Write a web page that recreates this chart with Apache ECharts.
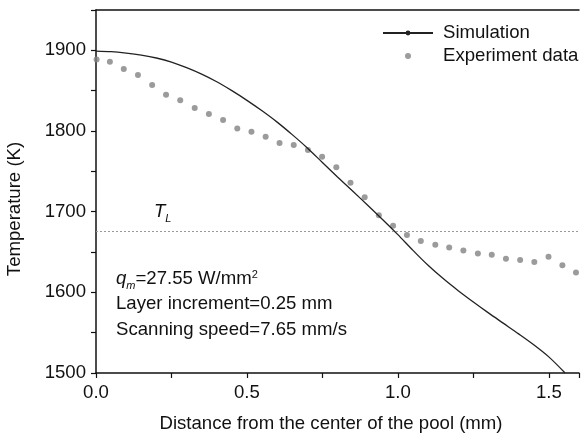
<!DOCTYPE html>
<html>
<head>
<meta charset="utf-8">
<script src="https://cdn.jsdelivr.net/npm/echarts@6/dist/echarts.min.js"></script>
<style>
  html, body { margin: 0; padding: 0; background: #fff; }
  #chart { width: 582px; height: 435px; }
</style>
</head>
<body>
<div id="chart"></div>
<script>
// simulated temperature along the pool (mm -> K)
const simX = [0, 0.05, 0.1, 0.15, 0.2, 0.25, 0.3, 0.35, 0.4, 0.45, 0.5, 0.55, 0.6, 0.65, 0.7, 0.75,
  0.8, 0.85, 0.9, 0.95, 1.0, 1.05, 1.1, 1.15, 1.2, 1.25, 1.3, 1.35, 1.4, 1.45, 1.5, 1.554];
const simT = [1899, 1898.3, 1896.5, 1894, 1890.5, 1885.5, 1878.5, 1870.5, 1861, 1850, 1838, 1825, 1811,
  1795.5, 1779, 1761, 1743, 1725.5, 1708, 1690, 1671.5, 1652, 1633.5, 1617, 1602, 1588, 1574.5,
  1561.5, 1548.5, 1535, 1520, 1500];

// measured points
const expX = [0.002, 0.046, 0.092, 0.139, 0.186, 0.232, 0.279, 0.327, 0.374, 0.421, 0.468, 0.515,
  0.562, 0.608, 0.655, 0.702, 0.749, 0.796, 0.843, 0.890, 0.937, 0.984, 1.030, 1.076, 1.124, 1.170,
  1.217, 1.265, 1.311, 1.358, 1.405, 1.452, 1.499, 1.545, 1.590];
const expT = [1888.5, 1885.7, 1877, 1869.5, 1857, 1845, 1838, 1828.5, 1821, 1813.5, 1803, 1799, 1793,
  1785, 1782.5, 1776.5, 1768, 1755, 1736, 1718, 1695.5, 1682.5, 1671, 1663.5, 1659, 1655.5, 1652,
  1648, 1646.5, 1641.5, 1640, 1637.5, 1644, 1633.5, 1624.5];

const liquidusT = 1676;
const xTickLabels = ["0.0", "0.5", "1.0", "1.5"];
const yTickLabels = ["1500", "1600", "1700", "1800", "1900"];

const FONT = "'Liberation Sans', Arial, sans-serif";
const FS = 18.6;
const palette = {
  text: "#111",
  axis: "#111",
  sim: "#222",
  exp: "#828282",
  tl: "#999",
};

const chart = echarts.init(document.getElementById("chart"));

const axisCommon = {
  axisLine: { show: true, lineStyle: { color: palette.axis, width: 1.5 } },
  axisTick: { show: true, inside: false, length: 5, lineStyle: { color: palette.axis, width: 1.2 } },
  splitLine: { show: false },
};

chart.setOption({
  animation: false,
  backgroundColor: "#fff",
  grid: { left: 96, top: 10, width: 488, height: 363 },

  legend: {
    orient: "vertical",
    left: 377,
    top: 17,
    itemWidth: 50,
    itemHeight: 6,
    itemGap: 1,
    selectedMode: false,
    data: ["Simulation", "Experiment data"],
    textStyle: { fontFamily: FONT, fontSize: FS, color: palette.text, lineHeight: 22, padding: [0, 0, 0, 5] },
  },

  xAxis: [
    {
      type: "value",
      min: 0,
      max: 1.6,
      interval: 0.25,
      ...axisCommon,
      axisLabel: {
        fontFamily: FONT,
        fontSize: FS,
        color: palette.text,
        margin: 10,
        formatter: (v) => {
          const s = v.toFixed(1);
          return xTickLabels.includes(s) && Math.abs(v * 2 - Math.round(v * 2)) < 1e-6 ? s : "";
        },
      },
    },
    {
      type: "value",
      position: "top",
      min: 0,
      max: 1.6,
      axisLine: { show: true, lineStyle: { color: palette.axis, width: 1.5 } },
      axisTick: { show: false },
      axisLabel: { show: false },
      splitLine: { show: false },
    },
  ],

  yAxis: {
    type: "value",
    min: 1500,
    max: 1950,
    interval: 50,
    ...axisCommon,
    axisLabel: {
      fontFamily: FONT,
      fontSize: FS,
      color: palette.text,
      margin: 10,
      formatter: (v) => (yTickLabels.includes(String(v)) ? String(v) : ""),
    },
  },

  graphic: [
    {
      type: "text",
      x: 331,
      y: 424,
      style: {
        text: "Distance from the center of the pool (mm)",
        textAlign: "center",
        textVerticalAlign: "middle",
        font: FS + "px " + FONT,
        fill: palette.text,
      },
    },
    {
      type: "text",
      x: 15,
      y: 209,
      rotation: Math.PI / 2,
      style: {
        text: "Temperature (K)",
        textAlign: "center",
        textVerticalAlign: "middle",
        font: FS + "px " + FONT,
        fill: palette.text,
      },
    },
    {
      type: "text",
      x: 154,
      y: 200,
      style: {
        text: "{i|T}{sub|L}",
        font: FS + "px " + FONT,
        fill: palette.text,
        lineHeight: 24,
        rich: {
          i: { fontStyle: "italic", fontSize: FS, fontFamily: FONT },
          sub: { fontStyle: "italic", fontSize: 11, fontFamily: FONT, verticalAlign: "bottom", lineHeight: 11 },
        },
      },
    },
    {
      type: "text",
      x: 116,
      y: 266,
      style: {
        text: "{i|q}{sub|m}=27.55 W/mm{sup|2}\nLayer increment=0.25 mm\nScanning speed=7.65 mm/s",
        font: FS + "px " + FONT,
        fill: palette.text,
        lineHeight: 25.5,
        rich: {
          i: { fontStyle: "italic", fontSize: FS, fontFamily: FONT },
          sub: { fontStyle: "italic", fontSize: 11, fontFamily: FONT, verticalAlign: "bottom", lineHeight: 11 },
          sup: { fontSize: 11, fontFamily: FONT, verticalAlign: "top", lineHeight: 11, padding: [3, 0, 0, 0] },
        },
      },
    },
  ],

  series: [
    {
      name: "Simulation",
      type: "line",
      symbol: "circle",
      symbolSize: 3,
      showSymbol: false,
      smooth: 0.3,
      color: palette.sim,
      lineStyle: { color: palette.sim, width: 1.3 },
      data: simX.map((x, i) => [x, simT[i]]),
      z: 3,
    },
    {
      name: "Experiment data",
      type: "scatter",
      symbol: "circle",
      symbolSize: 6,
      itemStyle: { color: palette.exp },
      data: expX.map((x, i) => [x, expT[i]]),
      markLine: {
        silent: true,
        symbol: ["none", "none"],
        label: { show: false },
        lineStyle: { color: palette.tl, type: [2, 2], width: 1 },
        data: [{ yAxis: liquidusT }],
      },
      z: 2,
    },
  ],
});
</script>
</body>
</html>
